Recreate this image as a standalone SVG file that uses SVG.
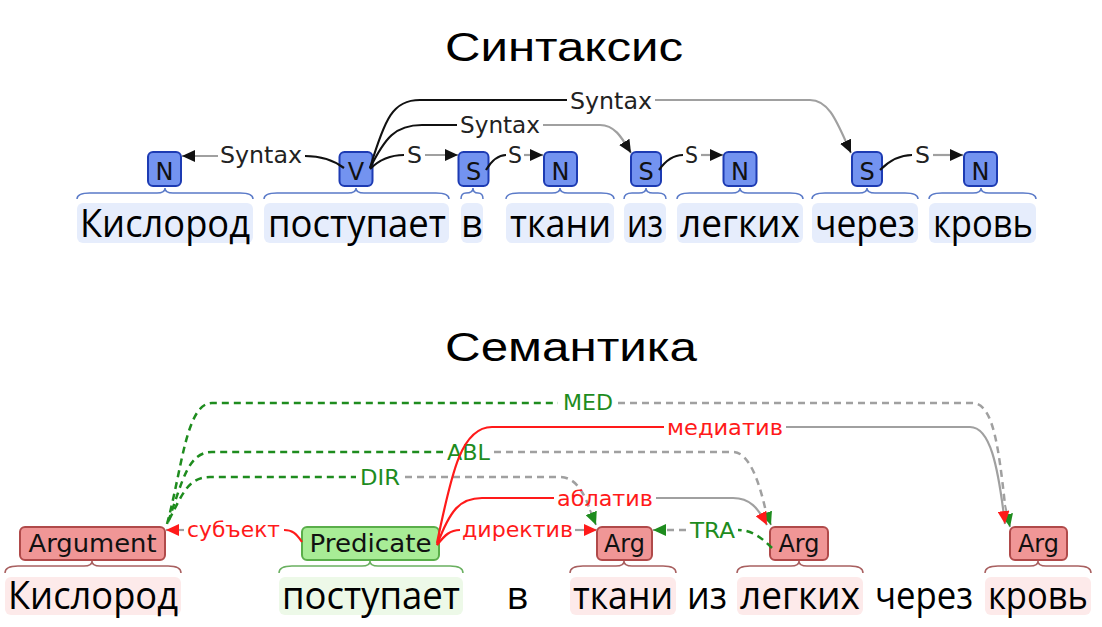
<svg xmlns="http://www.w3.org/2000/svg" width="1102" height="627" viewBox="0 0 1102 627">
<style>
.title{font-family:"Liberation Sans",Arial,sans-serif;font-size:40px;fill:#000;text-anchor:middle}
.word{font-family:"Open Sans","DejaVu Sans",sans-serif;font-size:38px;fill:#000;text-anchor:middle}
.lbl{font-family:"DejaVu Sans","Liberation Sans",sans-serif;font-size:23px;fill:#222;text-anchor:middle}
.rl{font-family:"DejaVu Sans","Liberation Sans",sans-serif;font-size:22px;fill:#ff1a1a;text-anchor:middle}
.gl{font-family:"DejaVu Sans","Liberation Sans",sans-serif;font-size:22px;fill:#1e8c1e;text-anchor:middle}
.ntext{font-family:"DejaVu Sans","Liberation Sans",sans-serif;font-size:24px;fill:#111;text-anchor:middle}
.bn{fill:#7393f0;stroke:#1d3bb3;stroke-width:2}
.rn{fill:#f09696;stroke:#b04a4a;stroke-width:2}
.gn{fill:#a8ec96;stroke:#5aae4a;stroke-width:2}
.bbg{fill:#e6edfc}
.rbg{fill:#fdeaea}
.gbg{fill:#edf9e8}
.bbr{fill:none;stroke:#5a7ac8;stroke-width:1.5}
.rbr{fill:none;stroke:#a86060;stroke-width:1.5}
.gbr{fill:none;stroke:#6ab060;stroke-width:1.5}
.blk{fill:none;stroke:#111;stroke-width:2.2}
.gry{fill:none;stroke:#a0a0a0;stroke-width:2.2}
.red{fill:none;stroke:#ff1a1a;stroke-width:2.2}
.grn{fill:none;stroke:#1e8c1e;stroke-width:2.5;stroke-dasharray:7 5}
.gryd{fill:none;stroke:#a0a0a0;stroke-width:2.5;stroke-dasharray:7 5}
</style>
<defs>
<marker id="ab" markerUnits="userSpaceOnUse" markerWidth="13" markerHeight="12" refX="13" refY="6" orient="auto"><path d="M0,0 L13,6 L0,12 z" fill="#111"/></marker>
<marker id="ar" markerUnits="userSpaceOnUse" markerWidth="13" markerHeight="12" refX="13" refY="6" orient="auto"><path d="M0,0 L13,6 L0,12 z" fill="#ff1a1a"/></marker>
<marker id="ag" markerUnits="userSpaceOnUse" markerWidth="13" markerHeight="12" refX="13" refY="6" orient="auto"><path d="M0,0 L13,6 L0,12 z" fill="#1e8c1e"/></marker>
</defs>
<rect width="1102" height="627" fill="#fff"/>

<text class="title" x="564" y="61" textLength="238" lengthAdjust="spacingAndGlyphs">Синтаксис</text>
<text class="title" x="571" y="361" textLength="252" lengthAdjust="spacingAndGlyphs">Семантика</text>

<!-- top words -->
<g id="top-words">
<rect class="bbg" x="77" y="203" width="176" height="40" rx="6"/>
<rect class="bbg" x="264" y="203" width="185" height="40" rx="6"/>
<rect class="bbg" x="461" y="203" width="22" height="40" rx="6"/>
<rect class="bbg" x="506" y="203" width="108" height="40" rx="6"/>
<rect class="bbg" x="624" y="203" width="42" height="40" rx="6"/>
<rect class="bbg" x="677" y="203" width="126" height="40" rx="6"/>
<rect class="bbg" x="812" y="203" width="106" height="40" rx="6"/>
<rect class="bbg" x="929" y="203" width="107" height="40" rx="6"/>
<text class="word" x="165" y="237" textLength="170" lengthAdjust="spacingAndGlyphs">Кислород</text>
<text class="word" x="357" y="237" textLength="178" lengthAdjust="spacingAndGlyphs">поступает</text>
<text class="word" x="472" y="237">в</text>
<text class="word" x="560.5" y="237" textLength="101" lengthAdjust="spacingAndGlyphs">ткани</text>
<text class="word" x="645" y="237" textLength="36" lengthAdjust="spacingAndGlyphs">из</text>
<text class="word" x="740" y="237" textLength="120" lengthAdjust="spacingAndGlyphs">легких</text>
<text class="word" x="865" y="237" textLength="100" lengthAdjust="spacingAndGlyphs">через</text>
<text class="word" x="983" y="237" textLength="100" lengthAdjust="spacingAndGlyphs">кровь</text>
<path class="bbr" d="M77,199 Q77,193 90,193 L157,193 Q165,193 165,188 Q165,193 173,193 L240,193 Q253,193 253,199"/>
<path class="bbr" d="M264,199 Q264,193 277,193 L348,193 Q356,193 356,188 Q356,193 364,193 L436,193 Q449,193 449,199"/>
<path class="bbr" d="M461,199 Q461,193 466,193 Q473,193 473,188 Q473,193 478,193 Q483,193 483,199"/>
<path class="bbr" d="M506,199 Q506,193 519,193 L552,193 Q560,193 560,188 Q560,193 568,193 L601,193 Q614,193 614,199"/>
<path class="bbr" d="M624,199 Q624,193 632,193 L639,193 Q646,193 646,188 Q646,193 653,193 L658,193 Q666,193 666,199"/>
<path class="bbr" d="M677,199 Q677,193 690,193 L732,193 Q740,193 740,188 Q740,193 748,193 L790,193 Q803,193 803,199"/>
<path class="bbr" d="M812,199 Q812,193 825,193 L859,193 Q867,193 867,188 Q867,193 875,193 L905,193 Q918,193 918,199"/>
<path class="bbr" d="M929,199 Q929,193 942,193 L973,193 Q981,193 981,188 Q981,193 989,193 L1023,193 Q1036,193 1036,199"/>
</g>

<!-- top nodes -->
<g id="n1"><rect class="bn" x="148" y="152" width="33" height="34" rx="5"/><text class="ntext" x="164.5" y="180">N</text></g>
<g id="v1"><rect class="bn" x="339.5" y="152" width="33" height="34" rx="5"/><text class="ntext" x="356" y="180">V</text></g>
<g id="s1"><rect class="bn" x="458.5" y="152" width="30" height="34" rx="5"/><text class="ntext" x="473.5" y="180">S</text></g>
<g id="n2"><rect class="bn" x="544" y="152" width="33" height="34" rx="5"/><text class="ntext" x="560.5" y="180">N</text></g>
<g id="s2"><rect class="bn" x="631" y="152" width="30" height="34" rx="5"/><text class="ntext" x="646" y="180">S</text></g>
<g id="n3"><rect class="bn" x="723.5" y="152" width="33" height="34" rx="5"/><text class="ntext" x="740" y="180">N</text></g>
<g id="s3"><rect class="bn" x="852" y="152" width="30" height="34" rx="5"/><text class="ntext" x="867" y="180">S</text></g>
<g id="n4"><rect class="bn" x="964" y="152" width="33" height="34" rx="5"/><text class="ntext" x="980.5" y="180">N</text></g>

<!-- top connectors -->
<g id="top-arcs">
<path class="blk" d="M344,168 C332,159 320,156 305,156"/>
<path class="gry" d="M218,156 L182,156" marker-end="url(#ab)"/>
<text class="lbl" x="261" y="163" textLength="82" lengthAdjust="spacingAndGlyphs">Syntax</text>

<path class="blk" d="M370,169 C380,159 390,155 404,155"/>
<path class="gry" d="M425,155 L458,155" marker-end="url(#ab)"/>
<text class="lbl" x="414.5" y="163" textLength="15" lengthAdjust="spacingAndGlyphs">S</text>

<path class="blk" d="M486,170 C492,160 498,155 506,155"/>
<path class="gry" d="M524,155 L543,155" marker-end="url(#ab)"/>
<text class="lbl" x="515" y="163" textLength="14" lengthAdjust="spacingAndGlyphs">S</text>

<path class="blk" d="M370,168 C385,138 395,125 422,125 L457,125"/>
<path class="gry" d="M543,125 L600,125 C615,125 622,138 631,153" marker-end="url(#ab)"/>
<text class="lbl" x="500" y="133" textLength="80" lengthAdjust="spacingAndGlyphs">Syntax</text>

<path class="blk" d="M370,168 C385,118 393,100 420,100 L567,100"/>
<path class="gry" d="M655,100 L810,100 C830,100 838,125 851,153" marker-end="url(#ab)"/>
<text class="lbl" x="611" y="109" textLength="82" lengthAdjust="spacingAndGlyphs">Syntax</text>

<path class="blk" d="M659,170 C666,160 673,155 683,155"/>
<path class="gry" d="M701,155 L723,155" marker-end="url(#ab)"/>
<text class="lbl" x="691.5" y="163" textLength="13" lengthAdjust="spacingAndGlyphs">S</text>

<path class="blk" d="M880,170 C890,160 900,155 912,155"/>
<path class="gry" d="M933,155 L963,155" marker-end="url(#ab)"/>
<text class="lbl" x="922.5" y="163" textLength="15" lengthAdjust="spacingAndGlyphs">S</text>
</g>

<!-- bottom words -->
<g id="bottom-words">
<rect class="rbg" x="5" y="577" width="176" height="38" rx="6"/>
<rect class="gbg" x="279" y="577" width="184" height="38" rx="6"/>
<rect class="rbg" x="570" y="577" width="106" height="38" rx="6"/>
<rect class="rbg" x="737" y="577" width="126" height="38" rx="6"/>
<rect class="rbg" x="985" y="577" width="106" height="38" rx="6"/>
<text class="word" x="93" y="609" textLength="170" lengthAdjust="spacingAndGlyphs">Кислород</text>
<text class="word" x="371" y="609" textLength="178" lengthAdjust="spacingAndGlyphs">поступает</text>
<text class="word" x="517.5" y="609">в</text>
<text class="word" x="623" y="609" textLength="100" lengthAdjust="spacingAndGlyphs">ткани</text>
<text class="word" x="707" y="609" textLength="40" lengthAdjust="spacingAndGlyphs">из</text>
<text class="word" x="800" y="609" textLength="120" lengthAdjust="spacingAndGlyphs">легких</text>
<text class="word" x="924" y="609" textLength="98" lengthAdjust="spacingAndGlyphs">через</text>
<text class="word" x="1038" y="609" textLength="100" lengthAdjust="spacingAndGlyphs">кровь</text>
<path class="rbr" d="M5,573 Q5,566 18,566 L84,566 Q92,566 92,561 Q92,566 100,566 L168,566 Q181,566 181,573"/>
<path class="gbr" d="M279,573 Q279,566 292,566 L362,566 Q370,566 370,561 Q370,566 378,566 L450,566 Q463,566 463,573"/>
<path class="rbr" d="M570,573 Q570,566 583,566 L616,566 Q624,566 624,561 Q624,566 632,566 L663,566 Q676,566 676,573"/>
<path class="rbr" d="M737,573 Q737,566 750,566 L791,566 Q799,566 799,561 Q799,566 807,566 L850,566 Q863,566 863,573"/>
<path class="rbr" d="M985,573 Q985,566 998,566 L1030,566 Q1038,566 1038,561 Q1038,566 1046,566 L1078,566 Q1091,566 1091,573"/>
</g>

<!-- bottom nodes -->
<g id="argument"><rect class="rn" x="20" y="527" width="145" height="33" rx="5"/><text class="ntext" x="92.5" y="552" textLength="128" lengthAdjust="spacingAndGlyphs">Argument</text></g>
<g id="predicate"><rect class="gn" x="302" y="527" width="137" height="33" rx="5"/><text class="ntext" x="370.5" y="552" textLength="122" lengthAdjust="spacingAndGlyphs">Predicate</text></g>
<g id="arg1"><rect class="rn" x="597" y="527" width="55" height="33" rx="5"/><text class="ntext" x="624.5" y="552" textLength="41" lengthAdjust="spacingAndGlyphs">Arg</text></g>
<g id="arg2"><rect class="rn" x="770" y="527" width="58" height="33" rx="5"/><text class="ntext" x="799" y="552" textLength="41" lengthAdjust="spacingAndGlyphs">Arg</text></g>
<g id="arg3"><rect class="rn" x="1010" y="527" width="57" height="33" rx="5"/><text class="ntext" x="1038.5" y="552" textLength="41" lengthAdjust="spacingAndGlyphs">Arg</text></g>

<!-- bottom connectors -->
<g id="bottom-arcs">
<path class="grn" d="M167,524 C182,470 186,403 212,403 L558,403"/>
<path class="gryd" d="M618,403 L972,403 C992,403 998,440 1005,505"/>
<path d="M1005,505 L1010,527" fill="none" stroke="#a0a0a0" stroke-width="2" marker-end="url(#ag)"/>
<text class="gl" x="588" y="410" textLength="50" lengthAdjust="spacingAndGlyphs">MED</text>

<path class="grn" d="M168,522 C183,480 188,452 212,452 L443,452"/>
<path class="gryd" d="M494,452 L733,452 C750,452 760,485 766,512"/>
<path d="M766,512 L771,525" fill="none" stroke="#a0a0a0" stroke-width="2" marker-end="url(#ag)"/>
<text class="gl" x="468.5" y="460" textLength="43" lengthAdjust="spacingAndGlyphs">ABL</text>

<path class="grn" d="M169,520 C182,495 188,477 210,477 L356,477"/>
<path class="gryd" d="M405,477 L560,477 C575,477 584,492 590,510"/>
<path d="M590,510 L596,525" fill="none" stroke="#a0a0a0" stroke-width="2" marker-end="url(#ag)"/>
<text class="gl" x="380" y="485" textLength="40" lengthAdjust="spacingAndGlyphs">DIR</text>

<path class="grn" d="M772,548 C762,538 752,530 738,530"/>
<path class="gryd" d="M686,530 L666,530"/>
<path d="M666,530 L653,530" fill="none" stroke="#a0a0a0" stroke-width="2" marker-end="url(#ag)"/>
<text class="gl" x="712.5" y="538" textLength="45" lengthAdjust="spacingAndGlyphs">TRA</text>

<path class="red" d="M302,542 C296,533 292,530 284,530"/>
<path class="gry" d="M184,530 L166,530" marker-end="url(#ar)"/>
<text class="rl" x="233.5" y="537" textLength="93" lengthAdjust="spacingAndGlyphs">субъект</text>

<path class="red" d="M437,545 C445,535 450,530 460,530"/>
<path class="gry" d="M575,530 L597,530" marker-end="url(#ar)"/>
<text class="rl" x="517.5" y="537" textLength="111" lengthAdjust="spacingAndGlyphs">директив</text>

<path class="red" d="M437,545 C450,510 460,498 482,498 L554,498"/>
<path class="gry" d="M656,498 L733,498 C750,498 758,508 767,525" marker-end="url(#ar)"/>
<text class="rl" x="605" y="506" textLength="96" lengthAdjust="spacingAndGlyphs">аблатив</text>

<path class="red" d="M437,543 C452,470 462,427 492,427 L664,427"/>
<path class="gry" d="M786,427 L970,427 C990,427 998,465 1005,524" marker-end="url(#ar)"/>
<text class="rl" x="725" y="435" textLength="116" lengthAdjust="spacingAndGlyphs">медиатив</text>
</g>
</svg>
